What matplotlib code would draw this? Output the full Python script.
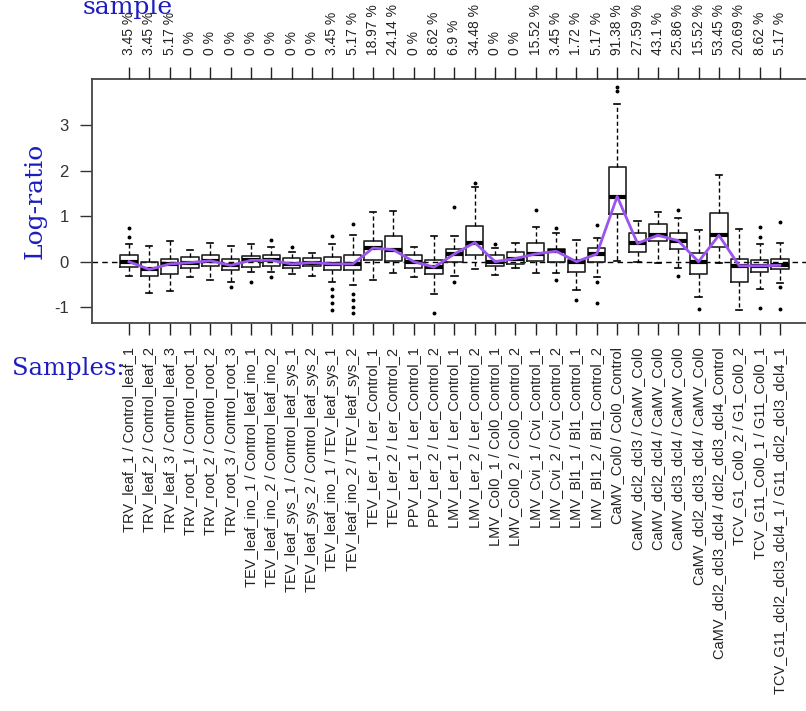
import matplotlib
matplotlib.use("Agg")
import matplotlib.pyplot as plt

labels = [
    "TRV_leaf_1 / Control_leaf_1", "TRV_leaf_2 / Control_leaf_2", "TRV_leaf_3 / Control_leaf_3",
    "TRV_root_1 / Control_root_1", "TRV_root_2 / Control_root_2", "TRV_root_3 / Control_root_3",
    "TEV_leaf_ino_1 / Control_leaf_ino_1", "TEV_leaf_ino_2 / Control_leaf_ino_2",
    "TEV_leaf_sys_1 / Control_leaf_sys_1", "TEV_leaf_sys_2 / Control_leaf_sys_2",
    "TEV_leaf_ino_1 / TEV_leaf_sys_1", "TEV_leaf_ino_2 / TEV_leaf_sys_2",
    "TEV_Ler_1 / Ler_Control_1", "TEV_Ler_2 / Ler_Control_2",
    "PPV_Ler_1 / Ler_Control_1", "PPV_Ler_2 / Ler_Control_2",
    "LMV_Ler_1 / Ler_Control_1", "LMV_Ler_2 / Ler_Control_2",
    "LMV_Col0_1 / Col0_Control_1", "LMV_Col0_2 / Col0_Control_2",
    "LMV_Cvi_1 / Cvi_Control_1", "LMV_Cvi_2 / Cvi_Control_2",
    "LMV_Bl1_1 / Bl1_Control_1", "LMV_Bl1_2 / Bl1_Control_2",
    "CaMV_Col0 / Col0_Control", "CaMV_dcl2_dcl3 / CaMV_Col0", "CaMV_dcl2_dcl4 / CaMV_Col0",
    "CaMV_dcl3_dcl4 / CaMV_Col0", "CaMV_dcl2_dcl3_dcl4 / CaMV_Col0",
    "CaMV_dcl2_dcl3_dcl4 / dcl2_dcl3_dcl4_Control",
    "TCV_G1_Col0_2 / G1_Col0_2", "TCV_G11_Col0_1 / G11_Col0_1",
    "TCV_G11_dcl2_dcl3_dcl4_1 / G11_dcl2_dcl3_dcl4_1",
]

percent = [
    "3.45 %", "3.45 %", "5.17 %", "0 %", "0 %", "0 %", "0 %", "0 %", "0 %", "0 %",
    "3.45 %", "5.17 %", "18.97 %", "24.14 %", "0 %", "8.62 %", "6.9 %", "34.48 %",
    "0 %", "0 %", "15.52 %", "3.45 %", "1.72 %", "5.17 %", "91.38 %", "27.59 %",
    "43.1 %", "25.86 %", "15.52 %", "53.45 %", "20.69 %", "8.62 %", "5.17 %",
]

medians = [0.0, -0.17, -0.05, -0.02, 0.02, -0.08, 0.03, 0.03, -0.05, -0.02,
           -0.05, -0.05, 0.30, 0.26, 0.0, -0.12, 0.17, 0.42, 0.0, 0.07,
           0.17, 0.23, 0.0, 0.17, 1.43, 0.40, 0.58, 0.46, 0.0, 0.58,
           -0.09, -0.09, -0.08]
q1 = [-0.12, -0.31, -0.27, -0.14, -0.10, -0.18, -0.12, -0.10, -0.14, -0.10,
      -0.18, -0.18, 0.04, 0.02, -0.14, -0.27, 0.0, 0.15, -0.09, -0.05,
      0.02, 0.0, -0.22, 0.0, 1.05, 0.22, 0.46, 0.28, -0.27, 0.33,
      -0.45, -0.22, -0.16]
q3 = [0.15, 0.0, 0.06, 0.11, 0.15, 0.07, 0.13, 0.14, 0.09, 0.09,
      0.11, 0.15, 0.46, 0.56, 0.15, 0.04, 0.28, 0.78, 0.15, 0.21,
      0.42, 0.28, 0.04, 0.31, 2.07, 0.64, 0.83, 0.62, 0.18, 1.06,
      0.07, 0.04, 0.07]
whisk_lo = [-0.31, -0.68, -0.64, -0.33, -0.40, -0.44, -0.22, -0.22, -0.27, -0.31,
            -0.45, -0.51, -0.40, -0.25, -0.33, -0.71, -0.31, -0.16, -0.30, -0.13,
            -0.25, -0.25, -0.62, -0.33, 0.02, 0.0, -0.02, -0.14, -0.78, -0.02,
            -1.07, -0.60, -0.47]
whisk_hi = [0.39, 0.35, 0.46, 0.26, 0.41, 0.35, 0.39, 0.33, 0.22, 0.19,
            0.39, 0.58, 1.10, 1.12, 0.33, 0.57, 0.57, 1.64, 0.30, 0.41,
            0.76, 0.63, 0.47, 0.52, 3.47, 0.89, 1.10, 0.95, 0.70, 1.90,
            0.72, 0.39, 0.42]
outliers = [
    [0.55, 0.74], [], [], [], [], [-0.55], [-0.45], [-0.34, 0.47], [0.32], [],
    [0.57, -0.6, -0.75, -0.9, -1.05], [0.83, -0.7, -0.85, -1.0, -1.12], [], [], [],
    [-1.13], [1.2, -0.45], [1.73], [0.39], [],
    [1.13], [0.74, -0.41], [-0.84], [0.8, -0.45, -0.9], [3.75, 3.84],
    [], [], [1.13, -0.32], [-1.04], [],
    [], [0.55, 0.76, -1.02], [0.88, -0.55, -1.04],
]

W, H = 806, 711
fig = plt.figure(figsize=(W / 100, H / 100), dpi=100)

n = len(labels)
pos = list(range(n))
x0, x1 = -1.82, n - 1 + 1.82
left_px, top_px, bot_px = 92, 79, 323
pitch = 20.34
right_px = left_px + (x1 - x0) * pitch
ax = fig.add_axes([left_px / W, 1 - bot_px / H, (right_px - left_px) / W, (bot_px - top_px) / H])

stats = []
for i in range(n):
    stats.append(dict(med=medians[i], q1=q1[i], q3=q3[i],
                      whislo=whisk_lo[i], whishi=whisk_hi[i], fliers=outliers[i]))

ax.axhline(0, color="black", lw=1.0, ls=(0, (4, 3)), zorder=1)

ax.bxp(stats, positions=pos, widths=0.85, capwidths=0.3, showfliers=True,
       boxprops=dict(color="#222222", lw=1.2),
       medianprops=dict(color="black", lw=3.0),
       whiskerprops=dict(color="black", lw=1.0, ls=(0, (3, 2))),
       capprops=dict(color="black", lw=1.2),
       flierprops=dict(marker="o", markersize=1.8, markerfacecolor="black",
                       markeredgecolor="black", linestyle="none"))

ax.plot(pos, medians, color="#9b55ee", lw=2.0, zorder=5)

ax.set_xlim(x0, x1)
ax.set_ylim(-1.345, 4.008)
ax.set_yticks([-1, 0, 1, 2, 3])
ax.set_yticklabels(["-1", "0", "1", "2", "3"], fontsize=12, color="#333333",
                   family="Liberation Sans")
ax.set_xticks(pos)
ax.set_xticklabels(labels, rotation=90, fontsize=10.5, family="Liberation Sans")
ax.tick_params(axis="x", direction="out", length=8.6, width=1.0, pad=9, colors="#222222")
ax.tick_params(axis="y", direction="out", length=8.6, width=1.0, pad=8, colors="#333333")
for s in ["left", "top", "bottom", "right"]:
    ax.spines[s].set_color("#444444")
    ax.spines[s].set_linewidth(1.3)

ax2 = ax.twiny()
ax2.set_xlim(x0, x1)
ax2.set_xticks(pos)
ax2.set_xticklabels(percent, rotation=90, fontsize=10, family="Liberation Sans")
ax2.tick_params(axis="x", direction="out", length=8.6, width=1.0, pad=8.5, colors="#222222")
for s in ["left", "top", "bottom", "right"]:
    ax2.spines[s].set_visible(False)

blue = "#1c1cc0"
fig.text(35 / W, 1 - 201 / H, "Log-ratio", rotation=90, ha="center", va="center",
         fontsize=18, color=blue, family="DejaVu Serif")
fig.text(12 / W, 1 - 375 / H, "Samples:", ha="left", va="baseline",
         fontsize=17.5, color=blue, family="DejaVu Serif")
fig.text(83 / W, 1 - 14 / H, "sample", ha="left", va="baseline",
         fontsize=18, color=blue, family="DejaVu Serif")

fig.savefig("out.png", dpi=100)
